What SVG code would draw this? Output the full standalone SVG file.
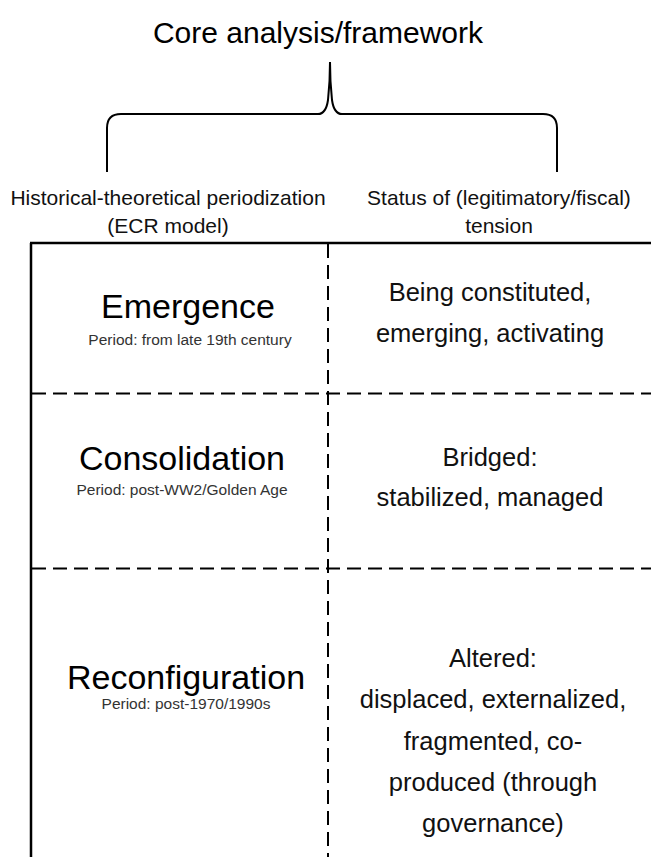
<svg xmlns="http://www.w3.org/2000/svg" width="651" height="857" viewBox="0 0 651 857">
<style>
text { font-family: "Liberation Sans", Arial, sans-serif; fill: #000; text-anchor: middle; }
.title { font-size: 30px; }
.head { font-size: 21px; fill: #111; }
.big { font-size: 34px; }
.sub { font-size: 15.5px; fill: #333; }
.rt { font-size: 25.5px; fill: #111; }
.solid { stroke: #000; stroke-width: 2.5; fill: none; }
.dash { stroke: #000; stroke-width: 2; fill: none; stroke-dasharray: 14 7; }
.brace { stroke: #000; stroke-width: 2; fill: none; }
</style>
<rect width="651" height="857" fill="#fff"/>
<g id="title">
<text class="title" x="318" y="43">Core analysis/framework</text>
</g>
<g id="brace">
<path class="brace" d="M107,172 L107,128 Q107,114 121,114 L318,114 Q326,114 328,100 Q330,82 330,62 Q330,82 332,100 Q334,114 342,114 L543,114 Q557,114 557,128 L557,172"/>
</g>
<g id="header-left">
<text class="head" x="168" y="205">Historical-theoretical periodization</text>
<text class="head" x="168" y="233">(ECR model)</text>
</g>
<g id="header-right">
<text class="head" x="499" y="205">Status of (legitimatory/fiscal)</text>
<text class="head" x="499" y="233">tension</text>
</g>
<g id="connectors">
<line class="solid" x1="30" y1="243" x2="651" y2="243"/>
<line class="solid" x1="31" y1="243" x2="31" y2="857"/>
<line class="dash" x1="328" y1="244" x2="328" y2="857"/>
<line class="dash" x1="32" y1="393.5" x2="651" y2="393.5"/>
<line class="dash" x1="32" y1="568.5" x2="651" y2="568.5"/>
</g>
<g id="emergence">
<text class="big" x="188" y="318">Emergence</text>
<text class="sub" x="190" y="345">Period: from late 19th century</text>
</g>
<g id="emergence-status">
<text class="rt" x="490" y="301">Being constituted,</text>
<text class="rt" x="490" y="342">emerging, activating</text>
</g>
<g id="consolidation">
<text class="big" x="182" y="470">Consolidation</text>
<text class="sub" x="182" y="495">Period: post-WW2/Golden Age</text>
</g>
<g id="consolidation-status">
<text class="rt" x="490" y="466">Bridged:</text>
<text class="rt" x="490" y="506">stabilized, managed</text>
</g>
<g id="reconfiguration">
<text class="big" x="186" y="689">Reconfiguration</text>
<text class="sub" x="186" y="709">Period: post-1970/1990s</text>
</g>
<g id="reconfiguration-status">
<text class="rt" x="493" y="667">Altered:</text>
<text class="rt" x="493" y="708">displaced, externalized,</text>
<text class="rt" x="493" y="750">fragmented, co-</text>
<text class="rt" x="493" y="791">produced (through</text>
<text class="rt" x="493" y="832">governance)</text>
</g>
</svg>
